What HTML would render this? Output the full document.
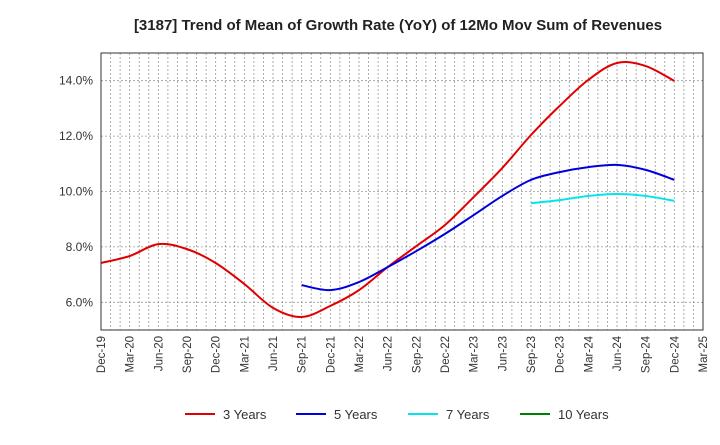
<!DOCTYPE html>
<html><head><meta charset="utf-8"><style>
body{margin:0;background:#fff;font-family:"Liberation Sans",sans-serif}
</style></head><body>
<svg id="chart" width="720" height="440" xmlns="http://www.w3.org/2000/svg" font-family="Liberation Sans, sans-serif">
<text x="398" y="30" text-anchor="middle" font-size="15" font-weight="bold" fill="#222">[3187]  Trend of Mean of Growth Rate (YoY) of 12Mo Mov Sum of Revenues</text>
<g id="grid"></g><g id="axes"></g><g id="series"></g><g id="legend"></g>
</svg>
<script>
const xLabels=["Dec-19","Mar-20","Jun-20","Sep-20","Dec-20","Mar-21","Jun-21","Sep-21","Dec-21","Mar-22","Jun-22","Sep-22","Dec-22","Mar-23","Jun-23","Sep-23","Dec-23","Mar-24","Jun-24","Sep-24","Dec-24","Mar-25"];
const yTicks=[6,8,10,12,14];
const s3=[7.42,7.67,8.1,7.92,7.42,6.66,5.8,5.47,5.87,6.44,7.27,8.03,8.79,9.8,10.85,12.04,13.09,14.03,14.64,14.53,13.99];
const s5=[null,null,null,null,null,null,null,6.62,6.44,6.73,7.27,7.85,8.47,9.15,9.84,10.42,10.7,10.88,10.96,10.78,10.42];
const s7=[null,null,null,null,null,null,null,null,null,null,null,null,null,null,null,9.58,9.69,9.84,9.91,9.84,9.66];
const s10=[];
const L=101,R=703,T=53,B=330,yMin=5,yMax=15;
const x=q=>L+(R-L)*q/21;
const y=v=>B-(B-T)*(v-yMin)/(yMax-yMin);
const NS="http://www.w3.org/2000/svg";
function mk(p,tag,a){const e=document.createElementNS(NS,tag);for(const k in a)e.setAttribute(k,a[k]);p.appendChild(e);return e;}
const grid=document.getElementById('grid'),axes=document.getElementById('axes'),ser=document.getElementById('series'),leg=document.getElementById('legend');
for(let m=1;m<63;m++){const gx=L+(R-L)*m/63;const l=mk(grid,'line',{x1:gx,x2:gx,y1:T,y2:B,stroke:'#999','stroke-width':0.8,'stroke-dasharray':'2,2'});

}
yTicks.forEach(v=>{const l=mk(grid,'line',{x1:L,x2:R,y1:y(v),y2:y(v),stroke:'#999','stroke-width':0.8,'stroke-dasharray':'2,2'});


const t=mk(axes,'text',{x:L-8,y:y(v)+4,'text-anchor':'end','font-size':12,fill:'#333'});t.textContent=v.toFixed(1)+'%';

});
const fr=mk(axes,'rect',{x:L,y:T,width:R-L,height:B-T,fill:'none',stroke:'#333','stroke-width':1});


xLabels.forEach((s,i)=>{const t=mk(axes,'text',{transform:`translate(${x(i)+4},${B+6}) rotate(-90)`,'text-anchor':'end','font-size':11.5,fill:'#333'});t.textContent=s;

});
function path(arr){const pts=[];arr.forEach((v,i)=>{if(v!=null)pts.push([x(i),y(v)]);});if(pts.length<2)return '';
let d=`M${pts[0][0]},${pts[0][1]}`;for(let i=0;i<pts.length-1;i++){const p0=pts[i-1]||pts[i],p1=pts[i],p2=pts[i+1],p3=pts[i+2]||p2;
d+=` C${p1[0]+(p2[0]-p0[0])/6},${p1[1]+(p2[1]-p0[1])/6} ${p2[0]-(p3[0]-p1[0])/6},${p2[1]-(p3[1]-p1[1])/6} ${p2[0]},${p2[1]}`;}return d;}
const series=[[s3,'#e00000','3 Years','series-3-years'],[s5,'#0000dd','5 Years','series-5-years'],[s7,'#00e5ee','7 Years','series-7-years'],[s10,'#008000','10 Years','series-10-years']];
const lx=[185,296,408,520];
series.forEach((s,k)=>{const d=path(s[0]);if(d){const p=mk(ser,'path',{d:d,fill:'none',stroke:s[1],'stroke-width':2});

}
const g=mk(leg,'g',{});


mk(g,'line',{x1:lx[k],x2:lx[k]+30,y1:414,y2:414,stroke:s[1],'stroke-width':2});
const t=mk(g,'text',{x:lx[k]+38,y:419,'font-size':13,fill:'#333'});t.textContent=s[2];});
</script>
</body></html>
